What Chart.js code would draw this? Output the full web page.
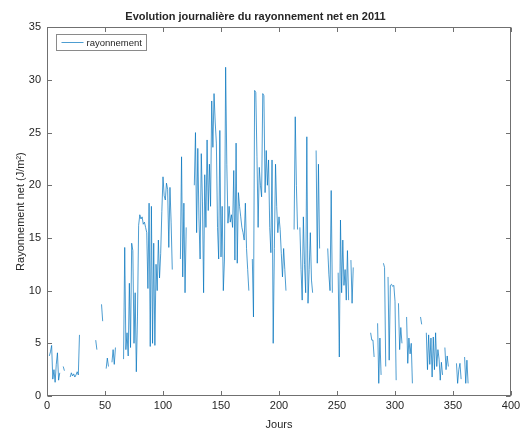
<!DOCTYPE html>
<html>
<head>
<meta charset="utf-8">
<script src="https://cdn.jsdelivr.net/npm/chart.js@4/dist/chart.umd.min.js"></script>
<style>
html, body { margin: 0; padding: 0; background: #fff; }
#wrap { width: 528px; height: 434px; }
</style>
</head>
<body>
<div id="wrap"><canvas id="rayChart" width="528" height="434"></canvas></div>
<script>
// Chart text and ticks
const titre = 'Evolution journalière du rayonnement net en 2011';
const serieLabel = 'rayonnement';
const xTitre = 'Jours';
const yTitre = 'Rayonnement net (J/m²)';
const xTicks = [0, 50, 100, 150, 200, 250, 300, 350, 400];
const yTicks = [0, 5, 10, 15, 20, 25, 30, 35];

// Daily net radiation, day 1 .. 365 (null = missing day)
const rayonnement = [
    null, 3.8, 4.2, 4.8, 1.6, 2.5, 1.3, 3.0, 4.1, 1.5,
    2.2, null, null, 2.8, 2.4, null, null, null, null, 1.8,
    2.2, 1.9, 2.1, 1.8, 2.0, 2.3, 2.0, 5.8, null, null,
    null, null, null, null, null, null, null, null, null, null,
    null, 5.3, 4.4, null, null, null, 8.7, 7.1, null, null,
    2.6, 3.6, 2.8, null, null, 3.2, 4.4, 3.0, 4.6, null,
    null, null, null, null, null, 3.5, 14.1, 4.4, 6.0, 3.8,
    10.7, 4.6, 14.5, 13.8, 5.0, 9.8, 2.3, 7.5, 16.2, 17.2,
    16.8, 17.0, 16.3, 16.5, 16.0, 15.5, 10.2, 18.3, 4.7, 18.0,
    5.0, 14.5, 4.8, 12.5, 10.0, 14.8, 11.2, 13.5, 17.5, 20.8,
    19.0, 18.6, 20.2, 19.6, 14.1, 19.8, 16.5, 12.0, null, null,
    null, null, null, null, 13.0, 22.7, 11.3, 18.3, 9.8, 16.0,
    null, null, null, null, null, null, 20.0, 25.0, 15.5, 23.5,
    16.8, 13.0, 23.0, 18.5, 9.8, 21.0, 16.0, 24.3, 17.6, 22.0,
    18.0, 28.0, 23.6, 28.7, 26.0, 24.0, 16.0, 13.0, 25.2, 13.2,
    18.0, 10.0, 13.0, 31.2, 22.0, 16.4, 18.0, 16.5, 17.2, 16.0,
    21.4, 12.9, 24.0, 12.6, 19.3, 18.0, 17.0, 16.0, 15.5, 14.8,
    18.3, 14.0, 12.0, 10.0, null, null, 13.0, 7.5, 29.0, 28.8,
    22.7, 16.0, 21.7, 20.0, 18.9, 28.7, 28.5, 19.3, 23.3, 20.0,
    22.4, 16.0, 13.6, 22.4, 5.0, 14.0, 22.0, 18.0, 15.5, 17.0,
    15.8, 13.5, 11.3, 14.0, 12.0, 10.0, null, null, null, null,
    null, null, 15.8, 26.5, 20.0, 15.8, null, 16.0, 12.0, 9.1,
    17.0, 12.5, 9.8, 24.6, 8.8, 12.0, 15.5, 11.0, 9.8, null,
    null, 23.3, 12.6, 22.0, 14.0, null, null, null, null, null,
    null, 14.0, 11.5, 10.0, 19.5, 9.8, null, null, null, null,
    11.7, 3.7, 16.7, 9.8, 14.8, 10.5, 12.0, 9.1, 13.8, 9.1,
    null, 12.9, 8.8, 12.2, null, null, null, null, null, null,
    null, null, null, null, null, null, null, null, 6.0, 5.3,
    5.3, 3.7, null, null, 6.9, 1.2, 5.5, 2.0, null, 12.6,
    12.2, 2.8, null, 11.3, 3.4, 10.5, 10.6, 10.4, 10.5, 9.0,
    1.5, null, 8.8, 4.4, 6.5, 5.0, null, null, null, 7.5,
    3.1, 5.5, 4.0, 5.0, 1.2, null, null, null, null, null,
    null, 7.5, 6.8, null, null, null, 6.0, 2.5, 5.8, 3.0,
    5.5, 1.8, 5.6, 2.5, 6.0, 2.8, 4.4, 3.5, 1.5, 3.2,
    2.0, null, 4.6, 2.5, 3.8, 2.8, null, null, null, null,
    null, null, 3.1, 1.2, 2.5, 3.1, 1.6, null, null, 3.7,
    1.2, 3.4, 1.2, null, null
];

const lineColor = 'rgb(0, 114, 189)';
const textColor = '#262626';
const boxColor = '#707070';
const fontFamily = '"Liberation Sans", Arial, Helvetica, sans-serif';

// Box, inward ticks and legend drawn MATLAB-style
const matlabFrame = {
    id: 'matlabFrame',
    afterDraw(chart) {
        const ctx = chart.ctx;
        const a = chart.chartArea;
        const xs = chart.scales.x;
        const ys = chart.scales.y;
        const tl = 4.5;
        ctx.save();
        ctx.strokeStyle = boxColor;
        ctx.lineWidth = 1;
        const l = Math.round(a.left) + 0.5, r = Math.round(a.right) - 0.5;
        const t = Math.round(a.top) + 0.5, b = Math.round(a.bottom) - 0.5;
        ctx.strokeRect(l, t, r - l, b - t);
        ctx.beginPath();
        xs.ticks.forEach(tk => {
            const px = Math.round(xs.getPixelForValue(tk.value)) + 0.5;
            ctx.moveTo(px, b); ctx.lineTo(px, b - tl);
            ctx.moveTo(px, t); ctx.lineTo(px, t + tl);
        });
        ys.ticks.forEach(tk => {
            const py = Math.round(ys.getPixelForValue(tk.value)) + 0.5;
            ctx.moveTo(l, py); ctx.lineTo(l + tl, py);
            ctx.moveTo(r, py); ctx.lineTo(r - tl, py);
        });
        ctx.stroke();

        // legend box
        const ds = chart.data.datasets[0];
        const lx = l + 9, ly = t + 7, lw = 90, lh = 16;
        ctx.fillStyle = '#fff';
        ctx.fillRect(lx, ly, lw, lh);
        ctx.strokeStyle = '#8a8a8a';
        ctx.strokeRect(lx, ly, lw, lh);
        ctx.beginPath();
        ctx.strokeStyle = ds.borderColor;
        ctx.lineWidth = ds.borderWidth;
        ctx.moveTo(lx + 5, ly + lh / 2);
        ctx.lineTo(lx + 27, ly + lh / 2);
        ctx.stroke();
        ctx.fillStyle = textColor;
        ctx.font = '9.5px ' + fontFamily;
        ctx.textBaseline = 'middle';
        ctx.fillText(ds.label, lx + 30, ly + lh / 2 + 0.5);
        ctx.restore();
    }
};

const ctx = document.getElementById('rayChart').getContext('2d');
new Chart(ctx, {
    type: 'line',
    data: {
        datasets: [{
            label: serieLabel,
            data: rayonnement.map((v, i) => ({ x: i + 1, y: v })),
            borderColor: lineColor,
            borderWidth: 0.7,
            pointRadius: 0,
            spanGaps: false,
            tension: 0
        }]
    },
    options: {
        responsive: false,
        animation: false,
        layout: {
            padding: { left: 0, right: 17, top: 0, bottom: 0 }
        },
        plugins: {
            legend: { display: false },
            tooltip: { enabled: false },
            title: {
                display: true,
                text: titre,
                color: textColor,
                font: { family: fontFamily, size: 11, weight: 'bold' },
                padding: { top: 10, bottom: 4 }
            }
        },
        scales: {
            x: {
                type: 'linear',
                min: 0,
                max: 400,
                afterBuildTicks: s => { s.ticks = xTicks.map(v => ({ value: v })); },
                afterFit: s => { s.height = 38; },
                grid: { display: false, drawTicks: false },
                border: { display: false },
                ticks: {
                    color: textColor,
                    font: { family: fontFamily, size: 11 },
                    padding: 3,
                    maxRotation: 0
                },
                title: {
                    display: true,
                    text: xTitre,
                    color: textColor,
                    font: { family: fontFamily, size: 11 },
                    padding: { top: 0, bottom: 2 }
                }
            },
            y: {
                min: 0,
                max: 35,
                afterBuildTicks: s => { s.ticks = yTicks.map(v => ({ value: v })); },
                afterFit: s => { s.width = 47; },
                grid: { display: false, drawTicks: false },
                border: { display: false },
                ticks: {
                    color: textColor,
                    font: { family: fontFamily, size: 11 },
                    padding: 6
                },
                title: {
                    display: true,
                    text: yTitre,
                    color: textColor,
                    font: { family: fontFamily, size: 11 },
                    padding: { top: 14, bottom: 0 }
                }
            }
        }
    },
    plugins: [matlabFrame]
});
</script>
</body>
</html>
